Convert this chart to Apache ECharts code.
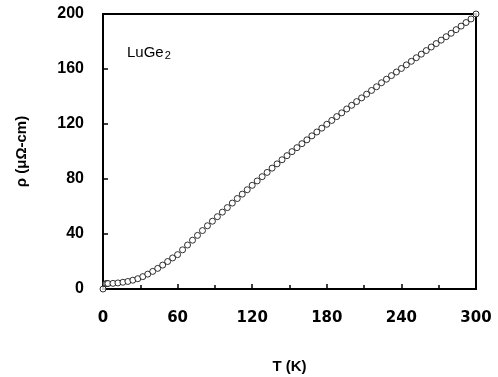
<!DOCTYPE html>
<html>
<head>
<meta charset="utf-8">
<script src="https://cdn.jsdelivr.net/npm/echarts@6/dist/echarts.min.js"></script>
<style>
  html, body { margin: 0; padding: 0; background: #fff; }
  #chart { width: 498px; height: 377px; }
</style>
</head>
<body>
<div id="chart"></div>
<script>
// temperature (K) and resistivity (μΩ-cm)
const temps = [0, 2, 3, 4, 8, 12, 16, 20, 24, 28, 32, 36, 40, 44, 48, 52, 56,
  60, 64, 68, 72, 76, 80, 84, 88, 92, 96, 100, 104, 108, 112, 116, 120, 124,
  128, 132, 136, 140, 144, 148, 152, 156, 160, 164, 168, 172, 176, 180, 184,
  188, 192, 196, 200, 204, 208, 212, 216, 220, 224, 228, 232, 236, 240, 244,
  248, 252, 256, 260, 264, 268, 272, 276, 280, 284, 288, 292, 296, 300];
const rho = [0, 3.8, 3.9, 4.0, 4.1, 4.4, 4.9, 5.5, 6.4, 7.5, 9.0, 10.8, 12.8,
  15.0, 17.4, 20.0, 22.6, 25.0, 28.5, 32.0, 35.5, 39.0, 42.5, 46.0, 49.3,
  52.6, 55.9, 59.2, 62.5, 65.8, 69.0, 72.2, 75.4, 78.6, 81.7, 84.8, 87.9,
  91.0, 94.0, 97.0, 99.9, 102.8, 105.7, 108.5, 111.4, 114.2, 117.0, 119.8,
  122.6, 125.4, 128.1, 130.9, 133.6, 136.3, 139.0, 141.7, 144.4, 147.1,
  150.0, 152.6, 155.2, 157.8, 160.4, 163.0, 165.6, 168.2, 170.8, 173.4,
  176.0, 178.5, 181.0, 183.5, 186.0, 188.6, 191.2, 193.8, 196.4, 200];

const xTicks = [0, 60, 120, 180, 240, 300];
const yTicks = [0, 40, 80, 120, 160, 200];

const chart = echarts.init(document.getElementById('chart'));
const font = 'Liberation Sans, Arial, sans-serif';
const wide = 'DejaVu Sans, sans-serif';

chart.setOption({
  animation: false,
  grid: {
    left: 103, right: 22, top: 14, bottom: 88,
    outerBoundsMode: 'none',
    show: true, borderColor: '#000', borderWidth: 2, backgroundColor: 'transparent'
  },
  xAxis: {
    type: 'value',
    min: xTicks[0], max: xTicks[xTicks.length - 1],
    interval: xTicks[1] - xTicks[0],
    name: 'T (K)',
    nameLocation: 'middle',
    nameGap: 70,
    nameTextStyle: { color: '#000', fontSize: 15, fontWeight: 'bold', fontFamily: font },
    axisLine: { lineStyle: { color: '#000', width: 2 } },
    axisTick: { inside: true, length: 5, lineStyle: { color: '#000', width: 1.5 } },
    minorTick: { show: true, splitNumber: 2, length: 4, lineStyle: { color: '#000', width: 1.5 } },
    axisLabel: { color: '#000', fontSize: 15, fontWeight: 'bold', fontFamily: wide, margin: 22 },
    splitLine: { show: false }
  },
  yAxis: {
    type: 'value',
    min: yTicks[0], max: yTicks[yTicks.length - 1],
    interval: yTicks[1] - yTicks[0],
    name: 'ρ (μΩ-cm)',
    nameLocation: 'middle',
    nameGap: 74,
    nameTextStyle: { color: '#000', fontSize: 15, fontWeight: 'bold', fontFamily: font },
    axisLine: { lineStyle: { color: '#000', width: 2 } },
    axisTick: { inside: true, length: 5, lineStyle: { color: '#000', width: 1.5 } },
    axisLabel: { color: '#000', fontSize: 16, fontWeight: 'bold', fontFamily: font, margin: 19 },
    splitLine: { show: false }
  },
  graphic: [{
    type: 'text',
    left: 127,
    top: 45,
    style: {
      text: 'LuGe{sub|2}',
      font: '15px ' + font,
      fill: '#000',
      rich: { sub: { fontSize: 11, verticalAlign: 'bottom', padding: [7, 0, 0, 1], fontFamily: font } }
    }
  }],
  series: [{
    type: 'scatter',
    symbol: 'circle',
    symbolSize: 6,
    itemStyle: { color: '#fff', borderColor: '#000', borderWidth: 1 },
    data: temps.map((t, i) => [t, rho[i]])
  }]
});
</script>
</body>
</html>
